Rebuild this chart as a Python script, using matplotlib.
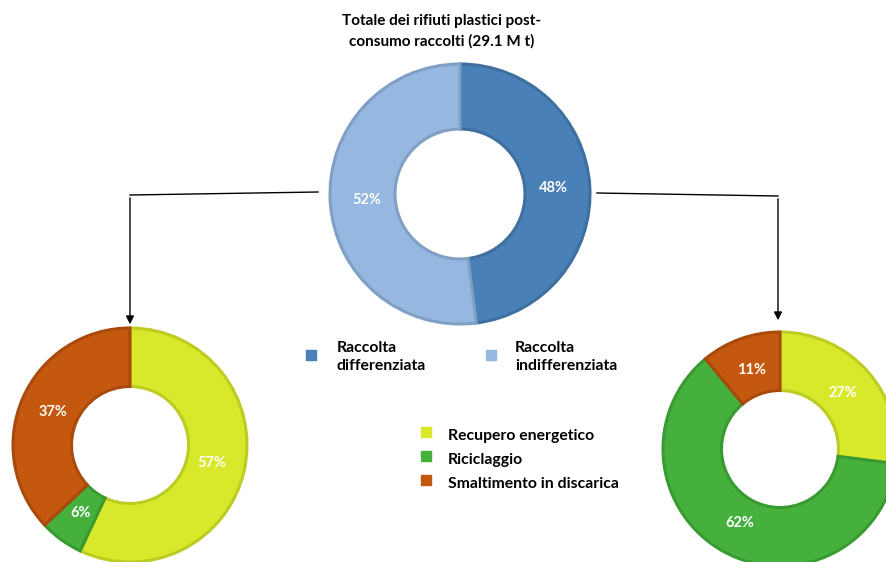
import matplotlib.pyplot as plt

# Dati
tot_labels = ['Raccolta\ndifferenziata', 'Raccolta\nindifferenziata']
tot_values = [48, 52]
tot_colors = ['#4a80b8', '#95b7e0']
tot_edges = ['#3f6f9f', '#7f9fc4']

dest_labels = ['Recupero energetico', 'Riciclaggio', 'Smaltimento in discarica']
diff_values = [57, 6, 37]      # raccolta differenziata (sinistra)
indiff_values = [27, 62, 11]   # raccolta indifferenziata (destra)
dest_colors = ['#d8e82a', '#45b03c', '#c5580f']
dest_edges = ['#bccc22', '#3a9a32', '#a94a0c']

H = 562
plt.rcParams['font.family'] = ['Lato', 'DejaVu Sans']

fig = plt.figure(figsize=(8.87, 5.62), dpi=100)
ax = fig.add_axes([0, 0, 1, 1])


def donut(values, colors, edges, center, radius):
    wedges, _, autotexts = ax.pie(
        values, colors=colors, startangle=90, counterclock=False,
        center=center, radius=radius, frame=True,
        autopct=lambda p: f'{p:.0f}%', pctdistance=0.72,
        wedgeprops=dict(width=radius * 0.5, linewidth=2.2),
        textprops=dict(color='white', fontsize=10.5, fontweight='bold'))
    for w, e in zip(wedges, edges):
        w.set_edgecolor(e)
    return wedges


donut(tot_values, tot_colors, tot_edges, (460, H - 194), 130)
donut(diff_values, dest_colors, dest_edges, (130, H - 445), 117)
donut(indiff_values, dest_colors, dest_edges, (780, H - 449), 117)

ax.set_xlim(0, 887)
ax.set_ylim(0, H)
ax.set_aspect('equal')
ax.axis('off')

# titolo
ax.text(442, H - 31, 'Totale dei rifiuti plastici post-\nconsumo raccolti (29.1 M t)',
        ha='center', va='center', fontsize=11, fontweight='bold', linespacing=1.5)

# frecce
ax.plot([318, 130], [H - 192, H - 195], color='black', lw=1)
ax.annotate('', xy=(130, H - 327), xytext=(130, H - 195),
            arrowprops=dict(arrowstyle='-|>', color='black', lw=1, mutation_scale=12))
ax.plot([597, 778], [H - 193, H - 196], color='black', lw=1)
ax.annotate('', xy=(778, H - 323), xytext=(778, H - 196),
            arrowprops=dict(arrowstyle='-|>', color='black', lw=1, mutation_scale=12))

# legenda superiore
for (x, tx), lab, c in zip([(311, 337), (491, 515)], tot_labels, tot_colors):
    ax.scatter([x], [H - 355], marker='s', s=45, color=c)
    ax.text(tx, H - 357, lab, ha='left', va='center', fontsize=11.3,
            fontweight='bold', linespacing=1.4)

# legenda inferiore
for i, (lab, c) in enumerate(zip(dest_labels, dest_colors)):
    y = H - (434 + 24 * i)
    ax.scatter([426], [y + 2], marker='s', s=45, color=c)
    ax.text(448, y - 2, lab, ha='left', va='center', fontsize=11.3, fontweight='bold')

fig.savefig('out.png', dpi=100)
